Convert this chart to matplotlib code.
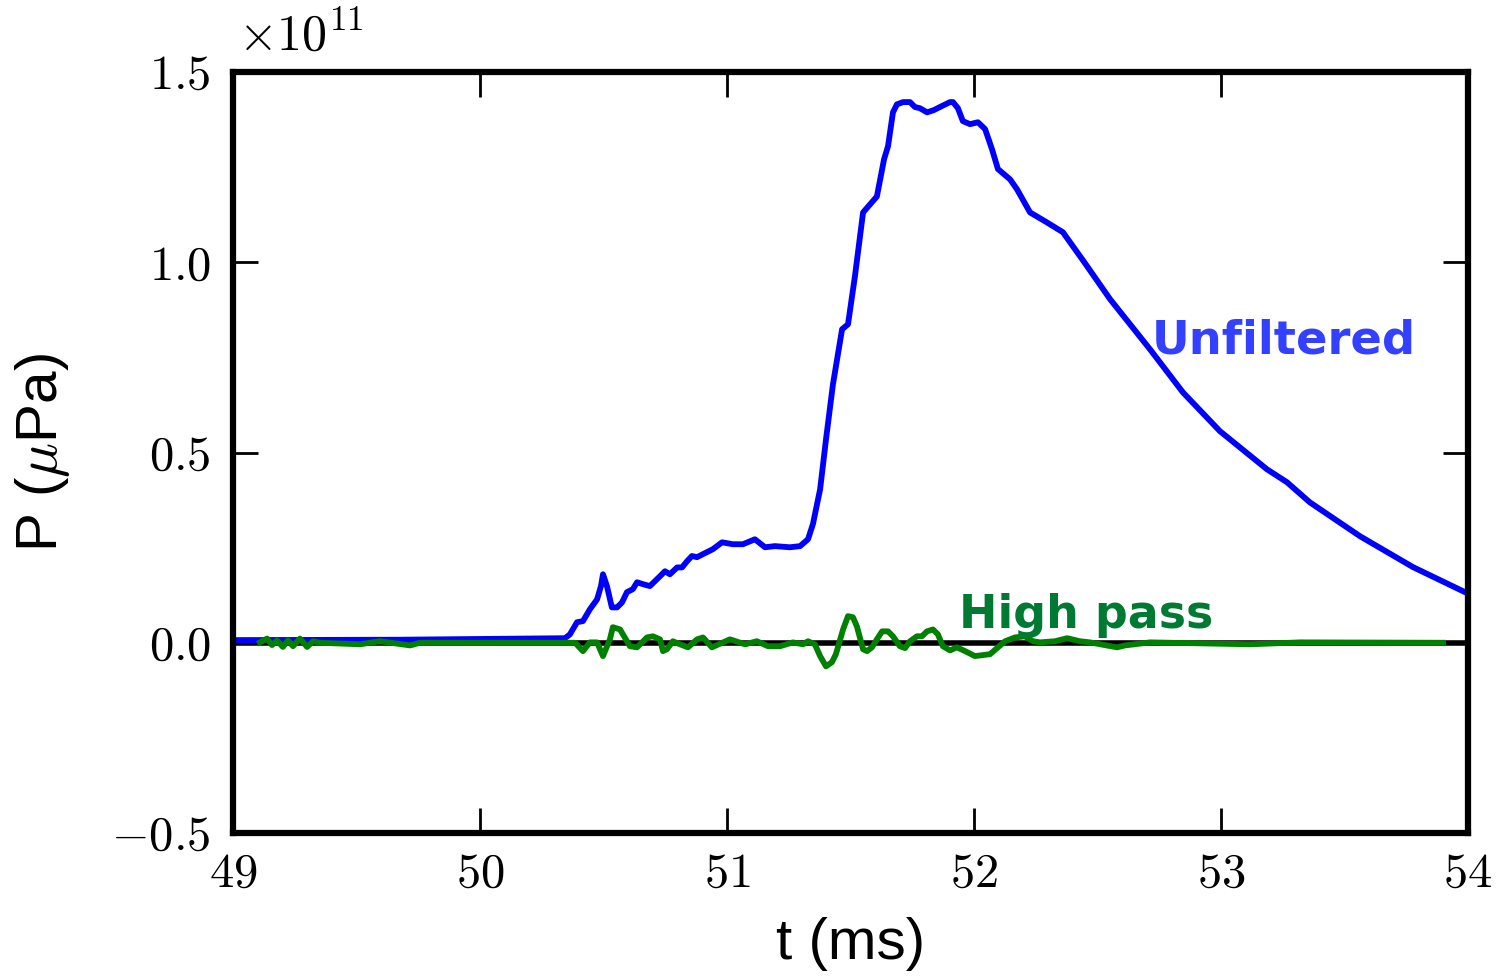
import matplotlib
matplotlib.use('Agg')
import matplotlib.pyplot as plt
import numpy as np

# 數據 (壓力單位: 1e11 μPa)
t_unfiltered = [49.000, 49.676, 50.344, 50.364, 50.393, 50.417, 50.445, 50.474, 50.490, 50.498,
                50.514, 50.534, 50.555, 50.575, 50.595, 50.619, 50.636, 50.660, 50.688, 50.729,
                50.749, 50.769, 50.798, 50.818, 50.838, 50.858, 50.879, 50.903, 50.943, 50.980,
                51.024, 51.065, 51.113, 51.154, 51.194, 51.255, 51.296, 51.328, 51.348, 51.377,
                51.401, 51.429, 51.466, 51.490, 51.518, 51.551, 51.579, 51.607, 51.636, 51.652,
                51.672, 51.688, 51.713, 51.741, 51.761, 51.781, 51.810, 51.838, 51.862, 51.903,
                51.915, 51.935, 51.955, 51.984, 52.016, 52.045, 52.073, 52.097, 52.146, 52.174,
                52.227, 52.287, 52.360, 52.449, 52.551, 52.713, 52.846, 52.996, 53.186, 53.267,
                53.360, 53.563, 53.777, 53.988]
p_unfiltered = [0.007, 0.008, 0.012, 0.022, 0.054, 0.057, 0.088, 0.114, 0.149, 0.180,
                0.149, 0.093, 0.093, 0.106, 0.133, 0.141, 0.159, 0.154, 0.149, 0.175,
                0.188, 0.180, 0.198, 0.198, 0.214, 0.228, 0.225, 0.233, 0.246, 0.264,
                0.259, 0.259, 0.272, 0.251, 0.254, 0.251, 0.254, 0.272, 0.312, 0.403,
                0.535, 0.679, 0.824, 0.837, 0.963, 1.131, 1.152, 1.173, 1.271, 1.305,
                1.394, 1.415, 1.421, 1.421, 1.408, 1.405, 1.394, 1.400, 1.408, 1.421,
                1.421, 1.405, 1.371, 1.363, 1.368, 1.350, 1.297, 1.245, 1.218, 1.192,
                1.131, 1.108, 1.079, 0.998, 0.903, 0.771, 0.658, 0.556, 0.456, 0.422,
                0.369, 0.280, 0.199, 0.133]

t_highpass = [49.109, 49.138, 49.158, 49.178, 49.202, 49.223, 49.243, 49.271, 49.300, 49.324,
              49.352, 49.514, 49.595, 49.717, 49.757, 50.385, 50.417, 50.445, 50.474, 50.498,
              50.526, 50.538, 50.567, 50.607, 50.636, 50.676, 50.700, 50.729, 50.741, 50.757,
              50.781, 50.810, 50.842, 50.879, 50.903, 50.939, 51.012, 51.073, 51.121, 51.166,
              51.215, 51.267, 51.308, 51.328, 51.356, 51.377, 51.401, 51.425, 51.441, 51.470,
              51.490, 51.510, 51.526, 51.551, 51.567, 51.587, 51.607, 51.628, 51.652, 51.672,
              51.700, 51.721, 51.741, 51.769, 51.789, 51.810, 51.834, 51.854, 51.874, 51.903,
              51.931, 51.964, 52.004, 52.065, 52.097, 52.126, 52.166, 52.206, 52.239, 52.267,
              52.328, 52.377, 52.429, 52.470, 52.579, 52.611, 52.713, 53.117, 53.320, 53.899]
p_highpass = [0.001, 0.011, -0.006, 0.006, -0.011, 0.006, -0.009, 0.011, -0.011, 0.004,
              0.000, -0.004, 0.004, -0.007, 0.000, 0.000, -0.022, 0.001, 0.001, -0.035,
              0.009, 0.041, 0.035, -0.009, -0.012, 0.014, 0.017, 0.009, -0.022, -0.017,
              0.004, -0.004, -0.012, 0.009, 0.014, -0.012, 0.009, -0.004, 0.004, -0.009,
              -0.009, 0.001, -0.004, 0.004, -0.004, -0.035, -0.062, -0.051, -0.030, 0.035,
              0.070, 0.067, 0.043, -0.017, -0.022, -0.012, 0.009, 0.030, 0.030, 0.017,
              -0.009, -0.014, 0.004, 0.017, 0.017, 0.030, 0.035, 0.022, -0.009, -0.020,
              -0.012, -0.022, -0.035, -0.030, -0.012, 0.004, 0.014, 0.017, 0.004, 0.001,
              0.004, 0.012, 0.004, 0.001, -0.012, -0.007, 0.001, -0.004, 0.001, 0.000]

scale = 1e11

plt.rcParams['font.family'] = 'Liberation Sans'
plt.rcParams['mathtext.fontset'] = 'cm'
plt.rcParams['axes.formatter.use_mathtext'] = True

fig = plt.figure(figsize=(15.05, 9.76), dpi=100)
ax = fig.add_axes([0.1548, 0.1465, 0.8206, 0.7797])

# 零線 + 兩條曲線
ax.axhline(0, color='k', lw=4.0, zorder=1)
ax.plot(t_unfiltered, np.array(p_unfiltered) * scale, color='#0000ff', lw=4.2, zorder=2)
ax.plot(t_highpass, np.array(p_highpass) * scale, color='#008000', lw=4.2, zorder=3)

ax.text(52.72, 0.76 * scale, 'Unfiltered', color='#3340ff', fontsize=33.5,
        fontweight='bold', family='DejaVu Sans')
ax.text(51.94, 0.04 * scale, 'High pass', color='#007a33', fontsize=33,
        fontweight='bold', family='DejaVu Sans')

ax.set_xlim(49, 54)
ax.set_ylim(-0.5 * scale, 1.5 * scale)
ax.set_xticks([49, 50, 51, 52, 53, 54])
ax.set_yticks(np.array([-0.5, 0.0, 0.5, 1.0, 1.5]) * scale)

for s in ax.spines.values():
    s.set_linewidth(4.5)

ax.tick_params(direction='in', length=18, width=2, top=True, right=True,
               labelsize=35, labelfontfamily='cmr10')
ax.tick_params(axis='x', pad=14)
ax.tick_params(axis='y', pad=16)

ax.set_xlabel('t (ms)', fontsize=42)
ax.set_ylabel(r'P ($\mu$Pa)', fontsize=42)
ax.xaxis.set_label_coords(0.5, -0.11)
ax.yaxis.set_label_coords(-0.13, 0.5)

# offset 文字 (×10^11) 自己放, 位置比預設高
ax.yaxis.get_offset_text().set_visible(False)
ax.text(0.004, 1.029, r'$\times10^{11}$', transform=ax.transAxes,
        fontsize=36, ha='left', va='baseline')

plt.savefig('out.png', dpi=100)
plt.close()
